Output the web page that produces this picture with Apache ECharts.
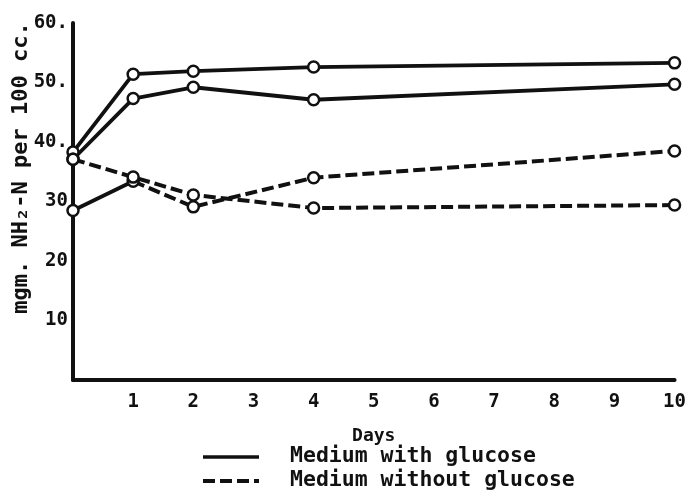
<!DOCTYPE html>
<html>
<head>
<meta charset="utf-8">
<script src="https://cdn.jsdelivr.net/npm/echarts@6/dist/echarts.min.js"></script>
<style>
  html, body { margin: 0; padding: 0; background: #fff; }
  #chart { width: 689px; height: 497px; }
</style>
</head>
<body>
<div id="chart"></div>
<script>
// Amino nitrogen (mgm. NH2-N per 100 cc.) over days of incubation
const days = [0, 1, 2, 4, 10];
const withGlucoseA = [38.3, 51.4, 51.9, 52.6, 53.3];
const withGlucoseB = [37.1, 47.3, 49.2, 47.1, 49.7];
const withoutGlucoseA = [28.5, 33.4, 29.1, 34.0, 38.5];
const withoutGlucoseB = [37.1, 34.1, 31.1, 28.9, 29.4];

const yTickLabels = { 10: '10', 20: '20', 30: '30', 40: '40.', 50: '50.', 60: '60.' };
const xTickLabels = ['', '1', '2', '3', '4', '5', '6', '7', '8', '9', '10'];
const yAxisTitle = 'mgm. NH\u2082-N per 100 cc.';
const xAxisTitle = 'Days';
const legendWith = 'Medium with glucose';
const legendWithout = 'Medium without glucose';

const FONT = '"DejaVu Sans Mono", "Liberation Mono", monospace';
const INK = '#111';

const pairs = (vals, from, to) =>
  days.slice(from, to).map((d, i) => [d, vals[from + i]]);

const marker = {
  symbol: 'circle',
  symbolSize: 11,
  itemStyle: { color: '#fff', borderColor: INK, borderWidth: 2.5 }
};

function lineSeries(data, dashed, showMarkers) {
  return Object.assign({
    type: 'line',
    data: data,
    showSymbol: showMarkers,
    lineStyle: dashed
      ? { color: INK, width: 4, type: [12, 5] }
      : { color: INK, width: 3.8 },
    z: 3,
    animation: false
  }, marker, showMarkers ? {} : { symbolSize: 0 });
}

const chart = echarts.init(document.getElementById('chart'));
chart.setOption({
  backgroundColor: '#fff',
  animation: false,
  grid: { left: 73, right: 11, top: 23, bottom: 117, containLabel: false },
  xAxis: {
    type: 'value',
    min: 0, max: 10, interval: 1,
    axisLine: { show: true, lineStyle: { color: INK, width: 4 } },
    axisTick: { show: false },
    splitLine: { show: false },
    axisLabel: {
      margin: 13,
      fontFamily: FONT, fontWeight: 'bold', fontSize: 19, color: INK,
      formatter: v => xTickLabels[v] || ''
    },
    name: xAxisTitle,
    nameLocation: 'middle',
    nameGap: 47,
    nameTextStyle: { fontFamily: FONT, fontWeight: 'bold', fontSize: 18, color: INK }
  },
  yAxis: {
    type: 'value',
    min: 0, max: 60, interval: 10,
    axisLine: { show: true, lineStyle: { color: INK, width: 4 } },
    axisTick: { show: false },
    splitLine: { show: false },
    axisLabel: {
      margin: 5,
      fontFamily: FONT, fontWeight: 'bold', fontSize: 19, color: INK,
      formatter: v => yTickLabels[v] || ''
    }
  },
  graphic: [
    {
      type: 'text',
      x: 21, y: 168,
      rotation: Math.PI / 2,
      style: {
        text: yAxisTitle,
        fontFamily: FONT, fontWeight: 'bold', fontSize: 22, fill: INK,
        align: 'center', verticalAlign: 'middle'
      }
    },
    {
      type: 'line',
      shape: { x1: 203, y1: 457, x2: 259, y2: 457 },
      style: { stroke: INK, lineWidth: 3.5 }
    },
    {
      type: 'text',
      x: 290, y: 456,
      style: {
        text: legendWith,
        fontFamily: FONT, fontWeight: 'bold', fontSize: 21.5, fill: INK,
        align: 'left', verticalAlign: 'middle'
      }
    },
    {
      type: 'line',
      shape: { x1: 203, y1: 481, x2: 259, y2: 481 },
      style: { stroke: INK, lineWidth: 4, lineDash: [12, 5] }
    },
    {
      type: 'text',
      x: 290, y: 480,
      style: {
        text: legendWithout,
        fontFamily: FONT, fontWeight: 'bold', fontSize: 21.5, fill: INK,
        align: 'left', verticalAlign: 'middle'
      }
    }
  ],
  series: [
    lineSeries(pairs(withGlucoseA, 0, 5), false, true),
    lineSeries(pairs(withGlucoseB, 0, 5), false, true),
    // the first stretch of this curve is drawn as a full stroke
    lineSeries(pairs(withoutGlucoseA, 0, 2), false, false),
    lineSeries(pairs(withoutGlucoseA, 1, 5), true, true),
    lineSeries(pairs(withoutGlucoseA, 0, 1), false, true),
    lineSeries(pairs(withoutGlucoseB, 0, 5), true, true)
  ]
});
</script>
</body>
</html>
